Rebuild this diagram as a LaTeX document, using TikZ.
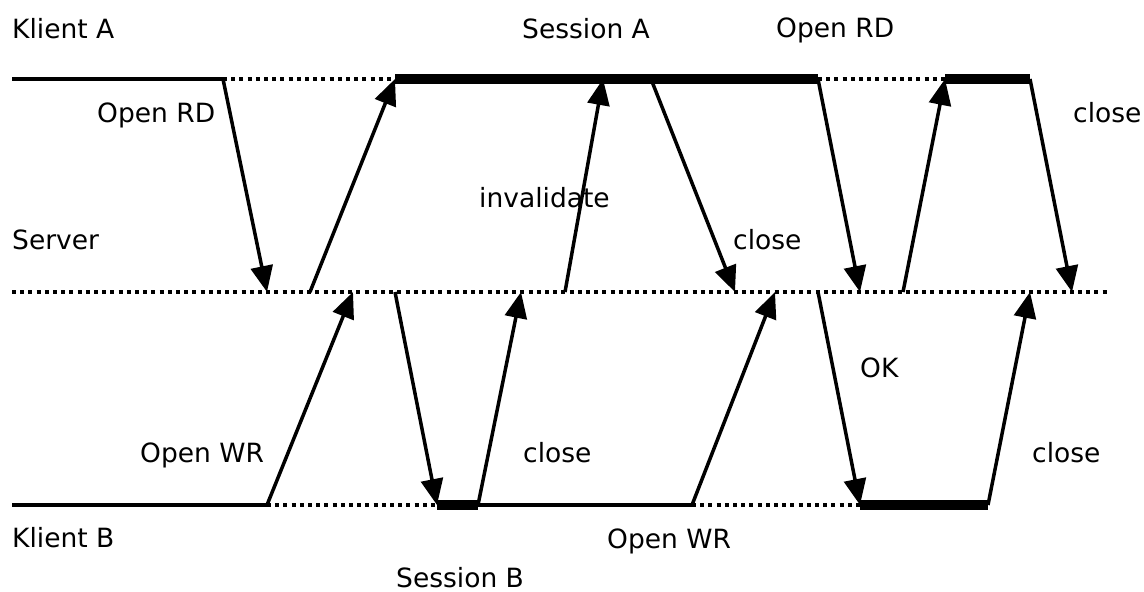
\documentclass[tikz,border=0pt]{standalone}
\usepackage{fontspec}
\setmainfont{DejaVu Sans}
\usetikzlibrary{arrows.meta}
\begin{document}
\begin{tikzpicture}[x=1pt,y=-1pt,
  lbl/.style={font=\fontsize{26.5}{30}\selectfont, inner sep=0pt, anchor=base west},
  msg/.style={line width=3.5pt, -{Triangle[length=26pt,width=22pt]}},
  idle/.style={line width=3.5pt},
  waitline/.style={line width=3.5pt, dash pattern=on 4pt off 4.2pt},
  sess/.style={line width=10pt}]
\useasboundingbox (0,0) rectangle (1144,592);
% Klient A timeline
\coordinate (a0) at (12,79);
\coordinate (a1) at (223,79);
\coordinate (a2) at (395,79);
\coordinate (a3) at (603,79);
\coordinate (a3b) at (651,79);
\coordinate (a4) at (818,79);
\coordinate (a5) at (945,79);
\coordinate (a6) at (1030,79);
% Server timeline
\coordinate (s0) at (12,292);
\coordinate (s1) at (267,292);
\coordinate (s2) at (310,292);
\coordinate (s3) at (353,292);
\coordinate (s4) at (395,292);
\coordinate (s5) at (521,292);
\coordinate (s6) at (565,292);
\coordinate (s7) at (735,292);
\coordinate (s8) at (775,292);
\coordinate (s9) at (818,292);
\coordinate (s10) at (860,292);
\coordinate (s11) at (903,292);
\coordinate (s12) at (1030,292);
\coordinate (s13) at (1072,292);
\coordinate (sE) at (1110,292);
% Klient B timeline
\coordinate (b0) at (12,505);
\coordinate (b1) at (267,505);
\coordinate (b2) at (437,505);
\coordinate (b3) at (478,505);
\coordinate (b4) at (692,505);
\coordinate (b5) at (860,505);
\coordinate (b6) at (988,505);

% timelines
\draw[waitline] (a1) -- (a2);
\draw[waitline] (a4) -- (a5);
\draw[waitline] (s0) -- (sE);
\draw[waitline] (b1) -- (b2);
\draw[waitline] (b4) -- (b5);
\draw[idle] (a0) -- (a1);
\draw[idle] (b0) -- (b1);
\draw[idle] (b3) -- (b4);
\draw[sess] (a2) -- (a4);
\draw[sess] (a5) -- (a6);
\draw[sess] (b2) -- (b3);
\draw[sess] (b5) -- (b6);

% messages
\draw[msg] (a1) -- (s1);
\draw[msg] (s2) -- (a2);
\draw[msg] (b1) -- (s3);
\draw[msg] (s4) -- (b2);
\draw[msg] (b3) -- (s5);
\draw[msg] (s6) -- (a3);
\draw[msg] (a3b) -- (s7);
\draw[msg] (b4) -- (s8);
\draw[msg] (a4) -- (s10);
\draw[msg] (s9) -- (b5);
\draw[msg] (s11) -- (a5);
\draw[msg] (a6) -- (s13);
\draw[msg] (b6) -- (s12);

% labels
\node[lbl] (lKA) at (12,38) {Klient A};
\node[lbl] (lSA) at (522,38) {Session A};
\node[lbl] (lORD2) at (776,37) {Open RD};
\node[lbl] (lORD1) at (97,122) {Open RD};
\node[lbl] (lclose4) at (1073,122) {close};
\node[lbl] (linv) at (479,207) {invalidate};
\node[lbl] (lSrv) at (12,249) {Server};
\node[lbl] (lclose2) at (733,249) {close};
\node[lbl] (lOK) at (860,377) {OK};
\node[lbl] (lOWR1) at (140,462) {Open WR};
\node[lbl] (lclose1) at (523,462) {close};
\node[lbl] (lclose3) at (1032,462) {close};
\node[lbl] (lKB) at (12,547) {Klient B};
\node[lbl] (lOWR2) at (607,548) {Open WR};
\node[lbl, text depth=0pt] (lSB) at (396,587) {Session B};
\end{tikzpicture}
\end{document}
